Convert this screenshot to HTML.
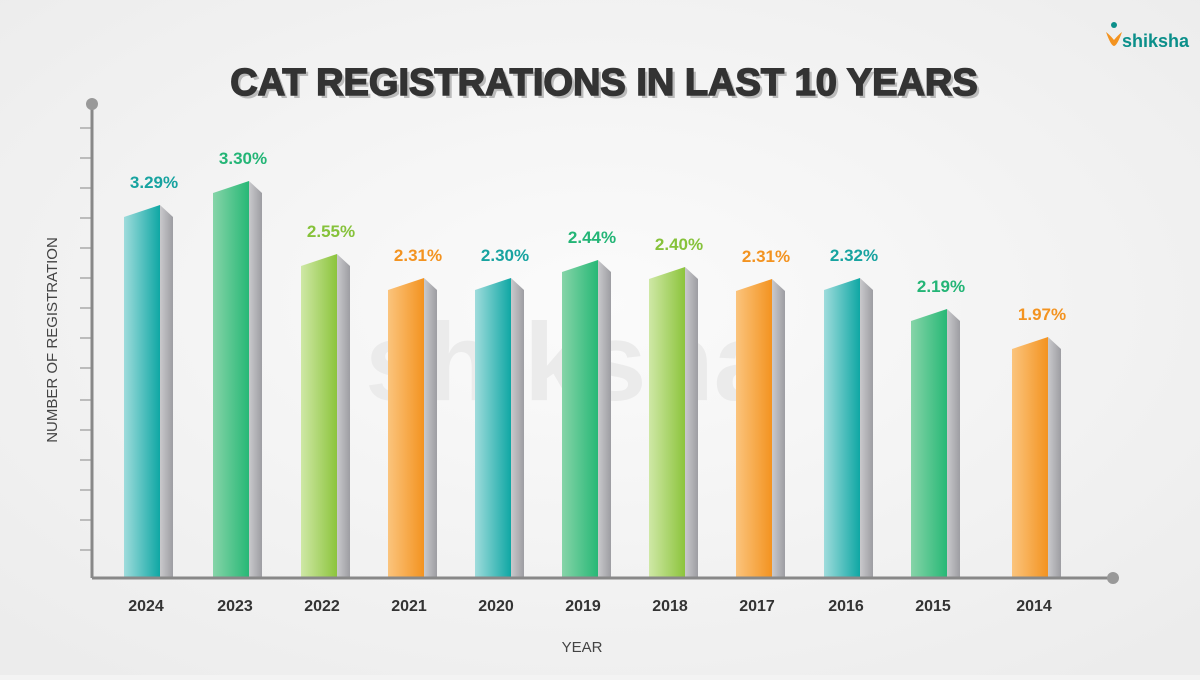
<!DOCTYPE html>
<html><head><meta charset="utf-8"><style>
body{margin:0;width:1200px;height:675px;overflow:hidden;background:#f3f3f3;font-family:"Liberation Sans",sans-serif}
</style></head><body>
<svg width="1200" height="675" xmlns="http://www.w3.org/2000/svg" font-family="Liberation Sans, sans-serif">
<defs>
<radialGradient id="bg" cx="50%" cy="45%" r="70%"><stop offset="0" stop-color="#fbfbfb"/><stop offset="1" stop-color="#ececec"/></radialGradient>
<linearGradient id="teal" x1="0" x2="1"><stop offset="0" stop-color="#9fdcdc"/><stop offset="1" stop-color="#0fa7a4"/></linearGradient>
<linearGradient id="green" x1="0" x2="1"><stop offset="0" stop-color="#86d4a8"/><stop offset="1" stop-color="#27b876"/></linearGradient>
<linearGradient id="lime" x1="0" x2="1"><stop offset="0" stop-color="#cfe8a6"/><stop offset="1" stop-color="#8cc43c"/></linearGradient>
<linearGradient id="orange" x1="0" x2="1"><stop offset="0" stop-color="#fbc47d"/><stop offset="1" stop-color="#f39320"/></linearGradient>
<linearGradient id="side" x1="0" x2="1"><stop offset="0" stop-color="#c9c9cc"/><stop offset="1" stop-color="#9d9da2"/></linearGradient>
</defs>
<rect width="1200" height="675" fill="url(#bg)"/>
<text x="570" y="400" font-size="110" font-weight="bold" fill="#ebebeb" text-anchor="middle">shiksha</text>
<text x="607" y="98" font-size="38" font-weight="900" fill="#bbb" text-anchor="middle">CAT REGISTRATIONS IN LAST 10 YEARS</text>
<text x="604" y="95" font-size="38" font-weight="900" fill="#333" stroke="#333" stroke-width="1.5" text-anchor="middle">CAT REGISTRATIONS IN LAST 10 YEARS</text>
<text x="1122" y="47" font-size="18" font-weight="bold" fill="#0b8f8a">shiksha</text>
<path d="M1106 32 q5 14 8 14 q3 0 8 -14 q-4 3 -8 8 q-4 -5 -8 -8z" fill="#f39320"/>
<circle cx="1114" cy="25" r="3" fill="#0b8f8a"/>
<g stroke="#999" stroke-width="1.2">
<line x1="80" y1="128" x2="92" y2="128"/><line x1="80" y1="158" x2="92" y2="158"/><line x1="80" y1="188" x2="92" y2="188"/><line x1="80" y1="218" x2="92" y2="218"/><line x1="80" y1="248" x2="92" y2="248"/><line x1="80" y1="278" x2="92" y2="278"/><line x1="80" y1="308" x2="92" y2="308"/><line x1="80" y1="338" x2="92" y2="338"/><line x1="80" y1="368" x2="92" y2="368"/><line x1="80" y1="400" x2="92" y2="400"/><line x1="80" y1="430" x2="92" y2="430"/><line x1="80" y1="460" x2="92" y2="460"/><line x1="80" y1="490" x2="92" y2="490"/><line x1="80" y1="520" x2="92" y2="520"/><line x1="80" y1="550" x2="92" y2="550"/>
</g>
<g font-size="17" font-weight="bold" text-anchor="middle">
<polygon points="124,217 160,205 160,577 124,577" fill="url(#teal)"/><polygon points="160,205 173,217 173,577 160,577" fill="url(#side)"/><text x="154" y="188" fill="#17a3a0">3.29%</text>
<polygon points="213,193 249,181 249,577 213,577" fill="url(#green)"/><polygon points="249,181 262,193 262,577 249,577" fill="url(#side)"/><text x="243" y="164" fill="#23b576">3.30%</text>
<polygon points="301,266 337,254 337,577 301,577" fill="url(#lime)"/><polygon points="337,254 350,266 350,577 337,577" fill="url(#side)"/><text x="331" y="237" fill="#86c23a">2.55%</text>
<polygon points="388,290 424,278 424,577 388,577" fill="url(#orange)"/><polygon points="424,278 437,290 437,577 424,577" fill="url(#side)"/><text x="418" y="261" fill="#f39320">2.31%</text>
<polygon points="475,290 511,278 511,577 475,577" fill="url(#teal)"/><polygon points="511,278 524,290 524,577 511,577" fill="url(#side)"/><text x="505" y="261" fill="#17a3a0">2.30%</text>
<polygon points="562,272 598,260 598,577 562,577" fill="url(#green)"/><polygon points="598,260 611,272 611,577 598,577" fill="url(#side)"/><text x="592" y="243" fill="#23b576">2.44%</text>
<polygon points="649,279 685,267 685,577 649,577" fill="url(#lime)"/><polygon points="685,267 698,279 698,577 685,577" fill="url(#side)"/><text x="679" y="250" fill="#86c23a">2.40%</text>
<polygon points="736,291 772,279 772,577 736,577" fill="url(#orange)"/><polygon points="772,279 785,291 785,577 772,577" fill="url(#side)"/><text x="766" y="262" fill="#f39320">2.31%</text>
<polygon points="824,290 860,278 860,577 824,577" fill="url(#teal)"/><polygon points="860,278 873,290 873,577 860,577" fill="url(#side)"/><text x="854" y="261" fill="#17a3a0">2.32%</text>
<polygon points="911,321 947,309 947,577 911,577" fill="url(#green)"/><polygon points="947,309 960,321 960,577 947,577" fill="url(#side)"/><text x="941" y="292" fill="#23b576">2.19%</text>
<polygon points="1012,349 1048,337 1048,577 1012,577" fill="url(#orange)"/><polygon points="1048,337 1061,349 1061,577 1048,577" fill="url(#side)"/><text x="1042" y="320" fill="#f39320">1.97%</text>
</g>
<g font-size="16" font-weight="bold" fill="#333" text-anchor="middle">
<text x="146" y="611">2024</text><text x="235" y="611">2023</text><text x="322" y="611">2022</text><text x="409" y="611">2021</text><text x="496" y="611">2020</text><text x="583" y="611">2019</text><text x="670" y="611">2018</text><text x="757" y="611">2017</text><text x="846" y="611">2016</text><text x="933" y="611">2015</text><text x="1034" y="611">2014</text>
</g>
<line x1="92" y1="104" x2="92" y2="578" stroke="#888" stroke-width="3"/>
<circle cx="92" cy="104" r="6" fill="#999"/>
<line x1="92" y1="578" x2="1113" y2="578" stroke="#888" stroke-width="3"/>
<circle cx="1113" cy="578" r="6" fill="#999"/>
<text x="57" y="340" font-size="15" fill="#444" text-anchor="middle" transform="rotate(-90 57 340)">NUMBER OF REGISTRATION</text>
<text x="582" y="652" font-size="15" fill="#444" text-anchor="middle">YEAR</text>
</svg>
</body></html>
